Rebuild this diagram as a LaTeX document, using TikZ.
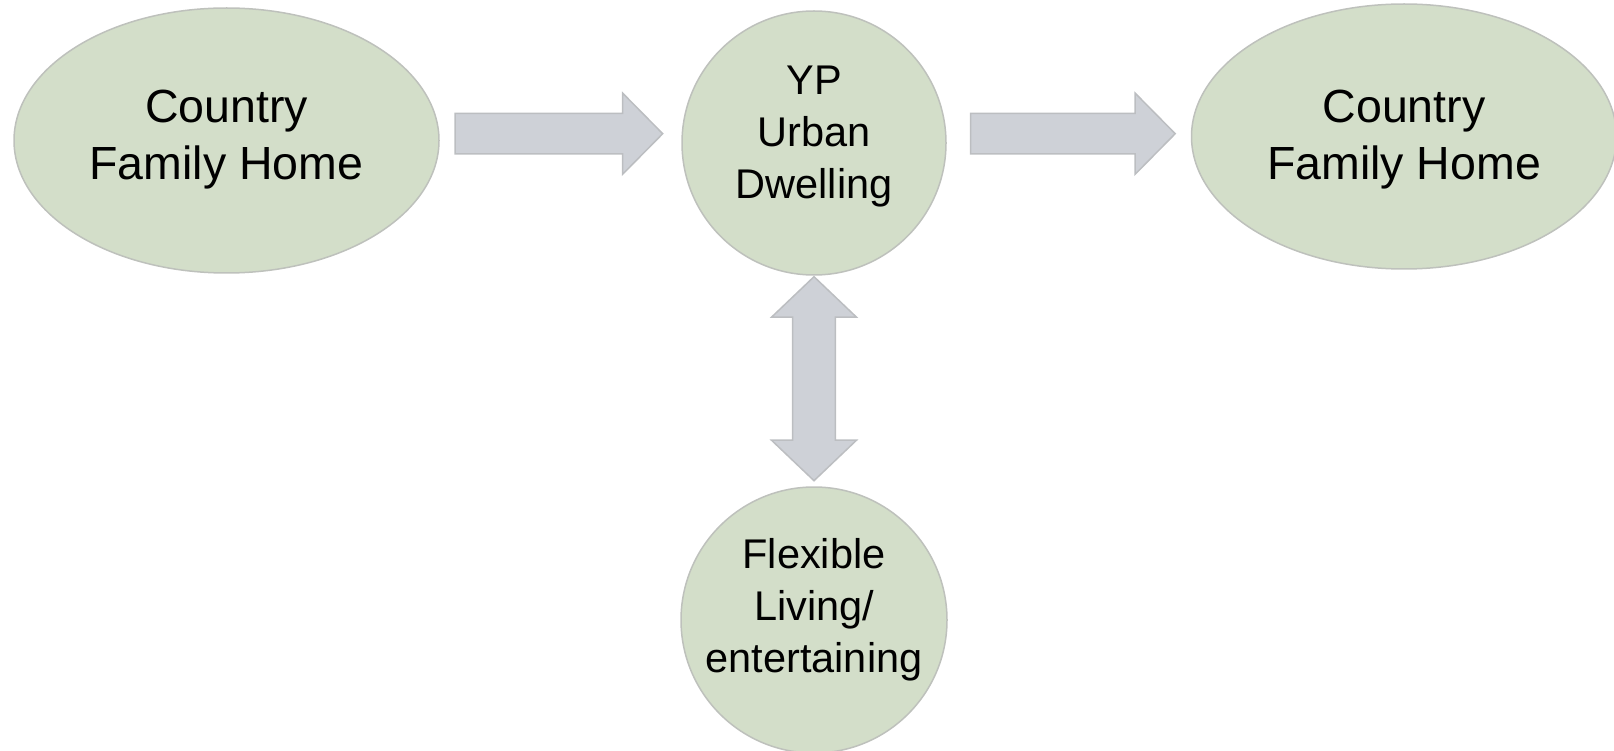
\documentclass[tikz,border=0pt]{standalone}
\usepackage{fontspec}
\setmainfont{Liberation Sans}
\usetikzlibrary{shapes.geometric,calc}
\definecolor{sage}{RGB}{211,222,201}
\definecolor{edgegray}{RGB}{190,193,188}
\definecolor{arrowfill}{RGB}{206,209,215}
\definecolor{arrowedge}{RGB}{188,190,193}
\tikzset{
  blob/.style={fill=sage, draw=edgegray, line width=1.5pt, inner sep=0pt, outer sep=0pt},
  oval/.style={blob, ellipse, minimum width=425pt, minimum height=265pt},
  disc/.style={blob, circle, minimum size=264pt},
  bigtext/.style={font=\fontsize{46.5}{57}\selectfont, align=center, inner sep=0pt},
  smalltext/.style={font=\fontsize{41.5}{52}\selectfont, align=center, inner sep=0pt},
  fatarrow/.style={fill=arrowfill, draw=arrowedge, line width=1.5pt, line join=miter},
}
% horizontal block arrow from #1 (tail) to #2 (tip)
\newcommand{\hfatarrow}[2]{%
  \draw[fatarrow] let \p1=(#1), \p2=(#2) in
    (\x1,\y1+20.3pt) -- (\x2-40pt,\y1+20.3pt) -- (\x2-40pt,\y1+40.5pt) -- (\x2,\y1)
    -- (\x2-40pt,\y1-40.5pt) -- (\x2-40pt,\y1-20.3pt) -- (\x1,\y1-20.3pt) -- cycle;}
% vertical double block arrow between tips #1 (top) and #2 (bottom)
\newcommand{\vdoublearrow}[2]{%
  \draw[fatarrow] let \p1=(#1), \p2=(#2) in
    (\x1,\y1) -- (\x1+42.5pt,\y1-40.5pt) -- (\x1+21.3pt,\y1-40.5pt) -- (\x1+21.3pt,\y2+40.5pt)
    -- (\x1+42.5pt,\y2+40.5pt) -- (\x1,\y2) -- (\x1-42.5pt,\y2+40.5pt) -- (\x1-21.3pt,\y2+40.5pt)
    -- (\x1-21.3pt,\y1-40.5pt) -- (\x1-42.5pt,\y1-40.5pt) -- cycle;}
\begin{document}
\begin{tikzpicture}[x=1pt,y=-1pt]
\useasboundingbox (0,0) rectangle (1614,751);
% shapes
\node[oval] (L) at (226.5,140.5) {};
\node[disc] (M) at (814,143) {};
\node[oval] (R) at (1404,136.5) {};
\node[disc, minimum size=266pt] (B) at (814,620) {};
% texts
\node[bigtext, yshift=1pt] (Lt) at (L.center) {Country\\Family Home};
\node[bigtext, yshift=-3pt] (Rt) at (R.center) {Country\\Family Home};
\node[smalltext, yshift=6.5pt] (Mt) at (M.center) {YP\\Urban\\Dwelling};
\node[smalltext, yshift=10.2pt] (Bt) at (B.center) {Flexible\\Living/\\entertaining};
% connector end points
\path (L.east) ++(16,-6.8) coordinate (a1s);
\path (M.west) ++(-19.3,-9.3) coordinate (a1e);
\path (M.east) ++(24.7,-9.3) coordinate (a2s);
\path (R.west) ++(-16.3,-2.8) coordinate (a2e);
\path (M.south) ++(0,1.7) coordinate (v1);
\path (B.north) ++(0,-6.3) coordinate (v2);
% connectors
\hfatarrow{a1s}{a1e}
\hfatarrow{a2s}{a2e}
\vdoublearrow{v1}{v2}
\end{tikzpicture}
\end{document}
